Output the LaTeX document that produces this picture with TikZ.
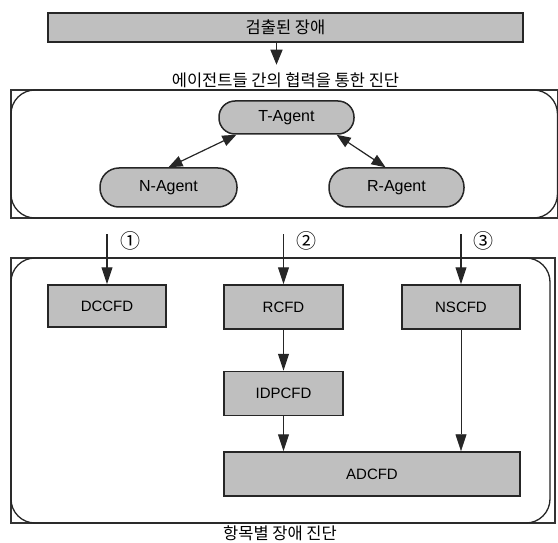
\documentclass[tikz,border=0pt]{standalone}
\usepackage{fontspec}
\setmainfont{Liberation Sans}
\newfontfamily\krfont{Noto Sans CJK KR}
\usetikzlibrary{arrows.meta, positioning}

\begin{document}
\begin{tikzpicture}[
    x=1pt, y=-1pt,
    krtext/.style={font=\krfont\fontsize{16.5}{18}\selectfont, inner sep=0pt},
    graybox/.style={rectangle, draw=black!85, fill=black!25, line width=1.5pt, minimum height=44pt, font=\fontsize{15}{17}\selectfont},
    agent/.style={rectangle, draw=black!85, fill=black!25, line width=1.5pt, rounded corners=19pt, minimum height=39pt, font=\fontsize{16}{18}\selectfont},
    framesq/.style={draw=black!80, line width=1.3pt},
    frameround/.style={draw=black!85, line width=1.3pt, rounded corners=24pt},
    bigarrow/.style={-{Triangle[length=15pt, width=12pt]}, line width=1.4pt, draw=black!85},
    arrow/.style={-{Triangle[length=17pt, width=11pt]}, line width=1.1pt, draw=black!85},
    thinarrow/.style={-{Triangle[length=17pt, width=11pt]}, line width=0.6pt, draw=black!85},
    dblarrow/.style={{Triangle[length=14pt, width=11pt]}-{Triangle[length=14pt, width=11pt]}, line width=1.2pt, draw=black!85},
    num/.style={font=\krfont\fontsize{20}{22}\selectfont, inner sep=0pt}
]
\useasboundingbox (0,0) rectangle (558,543);

% top: detected fault
\node (detected) [graybox, minimum width=475pt, minimum height=29pt, font=\krfont\fontsize{16.5}{18}\selectfont] at (285.5,27.5) {검출된 장애};
\node (coop) [krtext, below=30pt of detected] {에이전트들 간의 협력을 통한 진단};
\draw [bigarrow, shorten >=8pt] ([xshift=-9pt]detected.south) -- ([xshift=-9pt]coop.north);

% agents
\draw [framesq] (11,90) rectangle (557.5,218);
\draw [frameround] (11,90) rectangle (557.5,218);
\node (tagent) [agent, minimum width=135pt, minimum height=33pt, rounded corners=16pt] at (286.5,117.5) {T-Agent};
\node (nagent) [agent, minimum width=137pt] at (168.5,187.5) {N-Agent};
\node (ragent) [agent, minimum width=135pt] at (396.5,187.5) {R-Agent};
\draw [dblarrow] (nagent.north) -- (tagent.199);
\draw [dblarrow] (tagent.-19) -- ([xshift=-11pt]ragent.north);

% item diagnosis
\draw [framesq] (11,258) rectangle (555,523);
\draw [frameround] (11,258) rectangle (550,523);
\node (dccfd) [graybox, minimum width=118pt, minimum height=42pt] at (107,306) {DCCFD};
\node (rcfd) [graybox, minimum width=119pt] at (283.5,307) {RCFD};
\node (nscfd) [graybox, minimum width=118pt] at (461,307) {NSCFD};
\node (idpcfd) [graybox, minimum width=119pt, below=41pt of rcfd] {IDPCFD};
\node (adcfd) [graybox, minimum width=296pt] at (372,474) {ADCFD};
\node (itemdiag) [krtext] at (280,533) {항목별 장애 진단};

\coordinate (in1) at (107,234);
\coordinate (in2) at (283.5,234);
\coordinate (in3) at (461,234);
\node (num1) [num] at (130,241) {①};
\node (num2) [num] at (306,241) {②};
\node (num3) [num] at (483,241) {③};

\draw [arrow] (in1) -- (dccfd);
\draw [arrow] (in2) -- (rcfd);
\draw [arrow] (in3) -- (nscfd);
\draw [arrow] (rcfd) -- (idpcfd);
\draw [arrow] (idpcfd) -- (adcfd.north -| idpcfd);
\draw [thinarrow] (nscfd) -- (adcfd.north -| nscfd);

\end{tikzpicture}
\end{document}
